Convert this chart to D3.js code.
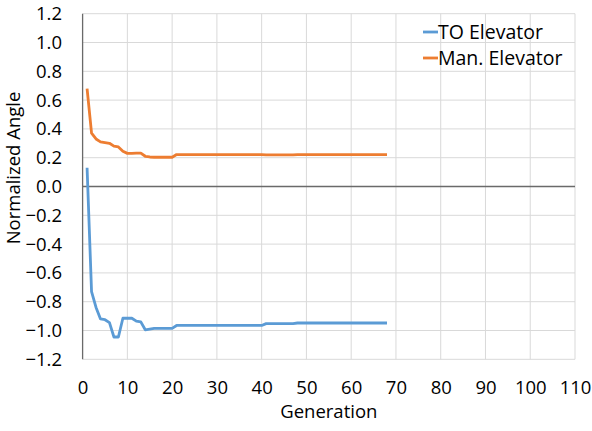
<!DOCTYPE html>
<html>
<head>
<meta charset="utf-8">
<script src="https://cdn.jsdelivr.net/npm/d3@7"></script>
<style>
  html, body { margin: 0; padding: 0; background: #fff; }
  svg { display: block; font-family: "Open Sans", Lato, sans-serif; }
</style>
</head>
<body>
<svg id="chart" width="592" height="431"></svg>
<script>
// ---- Data ----
const generations = [1,2,3,4,5,6,7,8,9,10,11,12,13,14,15,16,17,18,19,20,
  21,22,23,24,25,26,27,28,29,30,31,32,33,34,35,36,37,38,39,40,
  41,42,43,44,45,46,47,48,49,50,51,52,53,54,55,56,57,58,59,60,
  61,62,63,64,65,66,67,68];

const toElevator = [0.13,-0.73,-0.84,-0.92,-0.925,-0.945,-1.045,-1.045,-0.915,-0.915,
  -0.915,-0.935,-0.94,-0.995,-0.99,-0.985,-0.985,-0.985,-0.985,-0.985,
  -0.965,-0.965,-0.965,-0.965,-0.965,-0.965,-0.965,-0.965,-0.965,-0.965,
  -0.965,-0.965,-0.965,-0.965,-0.965,-0.965,-0.965,-0.965,-0.965,-0.965,
  -0.952,-0.952,-0.952,-0.952,-0.952,-0.952,-0.952,-0.948,-0.948,-0.948,
  -0.948,-0.948,-0.948,-0.948,-0.948,-0.948,-0.948,-0.948,-0.948,-0.948,
  -0.948,-0.948,-0.948,-0.948,-0.948,-0.948,-0.948,-0.948];

const manElevator = [0.68,0.37,0.33,0.31,0.305,0.30,0.28,0.275,0.245,0.23,
  0.23,0.232,0.232,0.21,0.205,0.203,0.203,0.203,0.203,0.203,
  0.222,0.222,0.222,0.222,0.222,0.222,0.222,0.222,0.222,0.222,
  0.222,0.222,0.222,0.222,0.222,0.222,0.222,0.222,0.222,0.222,
  0.22,0.22,0.22,0.22,0.22,0.22,0.22,0.222,0.222,0.222,
  0.222,0.222,0.222,0.222,0.222,0.222,0.222,0.222,0.222,0.222,
  0.222,0.222,0.222,0.222,0.222,0.222,0.222,0.222];

const seriesNames = ["TO Elevator", "Man. Elevator"];
const seriesColors = ["#5B9BD5", "#ED7D31"];
const xTicks = [0,10,20,30,40,50,60,70,80,90,100,110];
const yTicks = [-1.2,-1.0,-0.8,-0.6,-0.4,-0.2,0.0,0.2,0.4,0.6,0.8,1.0,1.2];
const xTitle = "Generation";
const yTitle = "Normalized Angle";

// ---- Layout ----
const svg = d3.select("#chart");
const plot = { left: 82.6, right: 575, top: 13.7, bottom: 359.3 };
const tickFont = 18.5, titleFont = 18.5, legendFont = 19.5;

const x = d3.scaleLinear().domain([0, 110]).range([plot.left, plot.right]);
const y = d3.scaleLinear().domain([-1.2, 1.2]).range([plot.bottom, plot.top]);

// Gridlines
const grid = svg.append("g");
grid.selectAll("line.h").data(yTicks).enter().append("line")
  .attr("x1", plot.left).attr("x2", plot.right)
  .attr("y1", d => y(d)).attr("y2", d => y(d))
  .attr("stroke", "#d9d9d9").attr("stroke-width", 1);
grid.selectAll("line.v").data(xTicks.filter(d => d > 0)).enter().append("line")
  .attr("y1", plot.top).attr("y2", plot.bottom)
  .attr("x1", d => x(d)).attr("x2", d => x(d))
  .attr("stroke", "#d9d9d9").attr("stroke-width", 1);

// Axes (tick labels via d3 axes)
const yAxis = d3.axisLeft(y).tickValues(yTicks).tickFormat(d3.format(".1f")).tickSize(0).tickPadding(20.6);
const gy = svg.append("g").attr("transform", `translate(${plot.left},0)`).call(yAxis);
gy.select(".domain").remove();
gy.selectAll("text").attr("font-size", tickFont).attr("fill", "#000")
  .attr("font-family", '"Open Sans", Lato, sans-serif');

const xAxis = d3.axisBottom(x).tickValues(xTicks).tickFormat(d3.format("d")).tickSize(0).tickPadding(0);
const gx = svg.append("g").attr("transform", `translate(0,${y(-1.2) + 22})`).call(xAxis);
gx.select(".domain").remove();
gx.selectAll("text").attr("font-size", tickFont).attr("fill", "#000")
  .attr("font-family", '"Open Sans", Lato, sans-serif');

// Zero line and y-axis line
svg.append("line")
  .attr("x1", plot.left).attr("x2", plot.right)
  .attr("y1", y(0)).attr("y2", y(0))
  .attr("stroke", "#6a6a6a").attr("stroke-width", 1.3);
svg.append("line")
  .attr("x1", x(0)).attr("x2", x(0))
  .attr("y1", plot.top).attr("y2", plot.bottom)
  .attr("stroke", "#6a6a6a").attr("stroke-width", 1.3);

// Series lines
const line = d3.line().x(d => x(d[0])).y(d => y(d[1]));
const allSeries = [toElevator, manElevator];
allSeries.forEach((vals, i) => {
  svg.append("path")
    .datum(generations.map((g, j) => [g, vals[j]]))
    .attr("d", line)
    .attr("fill", "none")
    .attr("stroke", seriesColors[i])
    .attr("stroke-width", 2.8)
    .attr("stroke-linejoin", "round");
});

// Axis titles
svg.append("text")
  .attr("x", (plot.left + plot.right) / 2).attr("y", 418)
  .attr("text-anchor", "middle").attr("font-size", titleFont).attr("fill", "#000")
  .text(xTitle);
svg.append("text")
  .attr("transform", `translate(20,168) rotate(-90)`)
  .attr("text-anchor", "middle").attr("font-size", titleFont).attr("fill", "#000")
  .text(yTitle);

// Legend
const legend = svg.append("g");
seriesNames.forEach((name, i) => {
  const ly = 32 + i * 26;
  legend.append("line")
    .attr("x1", 423).attr("x2", 438)
    .attr("y1", ly).attr("y2", ly)
    .attr("stroke", seriesColors[i]).attr("stroke-width", 2.8);
  legend.append("text")
    .attr("x", 438).attr("y", ly + 6.5)
    .attr("font-size", legendFont).attr("fill", "#000")
    .text(name);
});
</script>
</body>
</html>
